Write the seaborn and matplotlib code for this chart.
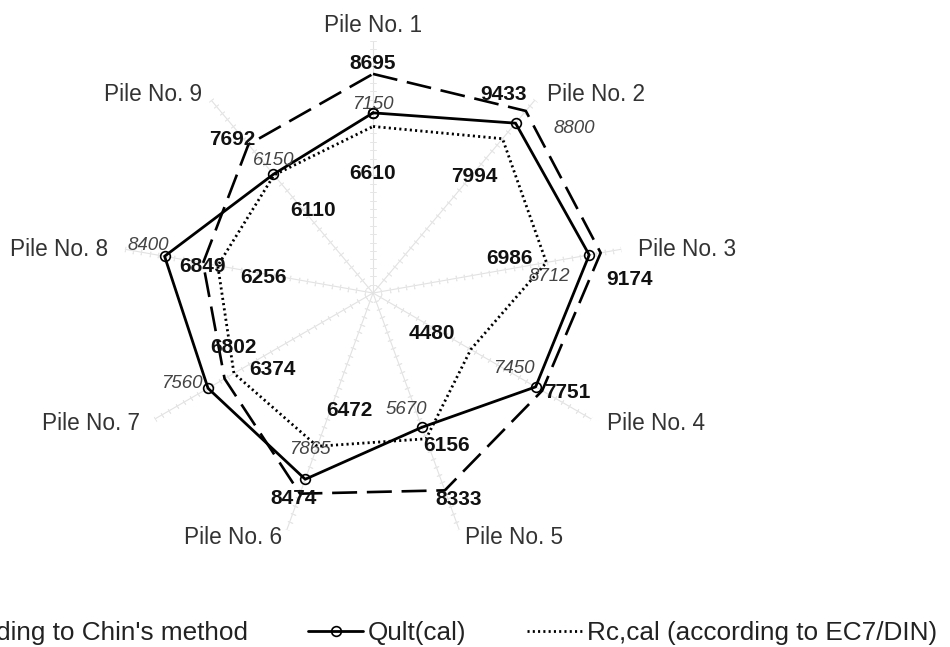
import numpy as np
import matplotlib
matplotlib.use("Agg")
import matplotlib.pyplot as plt
import seaborn as sns

# data
piles = ["Pile No. 1", "Pile No. 2", "Pile No. 3", "Pile No. 4", "Pile No. 5",
         "Pile No. 6", "Pile No. 7", "Pile No. 8", "Pile No. 9"]
chin = [8695, 9433, 9174, 7751, 8333, 8474, 6802, 6849, 7692]
qult_cal = [7150, 8800, 8712, 7450, 5670, 7865, 7560, 8400, 6150]
rc_cal = [6610, 7994, 6986, 4480, 6156, 6472, 6374, 6256, 6110]
r_max = 10000

# label offsets in pixels (x right, y up)
off_chin = [(0, 10), (-22, 16), (29, -27), (25, -2), (14, -9), (-6, -5), (9, 31), (-1, -3), (-16, 5)]
off_qult = [(0, 8), (59, -5), (-40, -22), (-22, 18), (-16, 18), (5, 30), (-26, 5), (-16, 11), (0, 14)]
off_rc = [(0, -47), (-28, -38), (-37, 4), (-39, 16), (20, -7), (32, 36), (39, 4), (46, -12), (39, -35)]
off_cat = [(0, 16, "center"), (12, 5, "left"), (17, 0, "left"), (16, -4, "left"), (6, -8, "left"),
           (-5, -8, "right"), (-15, -4, "right"), (-17, 0, "right"), (-9, 5, "right")]

sns.set_style("white")
plt.rcParams["font.family"] = ["Liberation Sans", "DejaVu Sans"]
plt.rcParams["lines.scale_dashes"] = False

theta = np.deg2rad(np.arange(len(piles)) * 360 / len(piles))
theta_c = np.append(theta, 2 * np.pi)

fig = plt.figure(figsize=(9.5, 6.47), dpi=100)
ax = fig.add_axes([0.1274, 0.1576, 0.5305, 0.779], projection="polar")
ax.set_theta_zero_location("N")
ax.set_theta_direction(-1)
ax.set_ylim(0, r_max)
ax.grid(False)
ax.spines["polar"].set_visible(False)
ax.set_xticks([])
ax.set_yticks([])
ax.patch.set_alpha(0)

# spokes with small cross ticks
ticks = np.arange(1, 31) * r_max / 30
for t in theta:
    ax.plot([t, t], [0, r_max], color="#e2e2e2", lw=0.8, zorder=1)
    rot = 90 - np.rad2deg(t)
    ax.plot(np.full(len(ticks), t), ticks, ls="none", marker=(2, 2, rot),
            ms=4, mec="#e6e6e6", mew=0.6, zorder=1)

def close(v):
    return list(v) + [v[0]]

sns.lineplot(x=theta_c, y=close(chin), ax=ax, sort=False, color="black", lw=1.9,
             linestyle=(0, (18, 7)), label="Qult according to Chin's method", zorder=3)
sns.lineplot(x=theta_c, y=close(qult_cal), ax=ax, sort=False, color="black", lw=2.0,
             marker="o", ms=7, mfc="none", mec="black", mew=1.2,
             label="Qult(cal)", zorder=4)
sns.lineplot(x=theta_c, y=close(rc_cal), ax=ax, sort=False, color="black", lw=2.0,
             linestyle=(0, (1.5, 2.3)), label="Rc,cal (according to EC7/DIN)", zorder=3)

for i, t in enumerate(theta):
    ax.annotate(str(chin[i]), (t, chin[i]), xytext=off_chin[i], textcoords="offset pixels",
                ha="center", va="center", fontsize=15, fontweight="bold", color="#111111",
                annotation_clip=False, zorder=6)
    ax.annotate(str(qult_cal[i]), (t, qult_cal[i]), xytext=off_qult[i], textcoords="offset pixels",
                ha="center", va="center", fontsize=13.5, fontstyle="italic", color="#444444",
                annotation_clip=False, zorder=6)
    ax.annotate(str(rc_cal[i]), (t, rc_cal[i]), xytext=off_rc[i], textcoords="offset pixels",
                ha="center", va="center", fontsize=15, fontweight="bold", color="#111111",
                annotation_clip=False, zorder=6)
    dx, dy, ha = off_cat[i]
    ax.annotate(piles[i], (t, r_max), xytext=(dx, dy), textcoords="offset pixels",
                ha=ha, va="center", fontsize=16.3, color="#333333", annotation_clip=False)

handles, labels = ax.get_legend_handles_labels()
ax.get_legend().remove()
fig.legend(handles, labels, loc="center right", bbox_to_anchor=(1.0, 0.0216), ncol=3,
           frameon=False, fontsize=18.8, handlelength=2.1, handletextpad=0.2,
           columnspacing=2.3, borderpad=0, labelcolor="#222222")

fig.savefig("out.png", dpi=100)
